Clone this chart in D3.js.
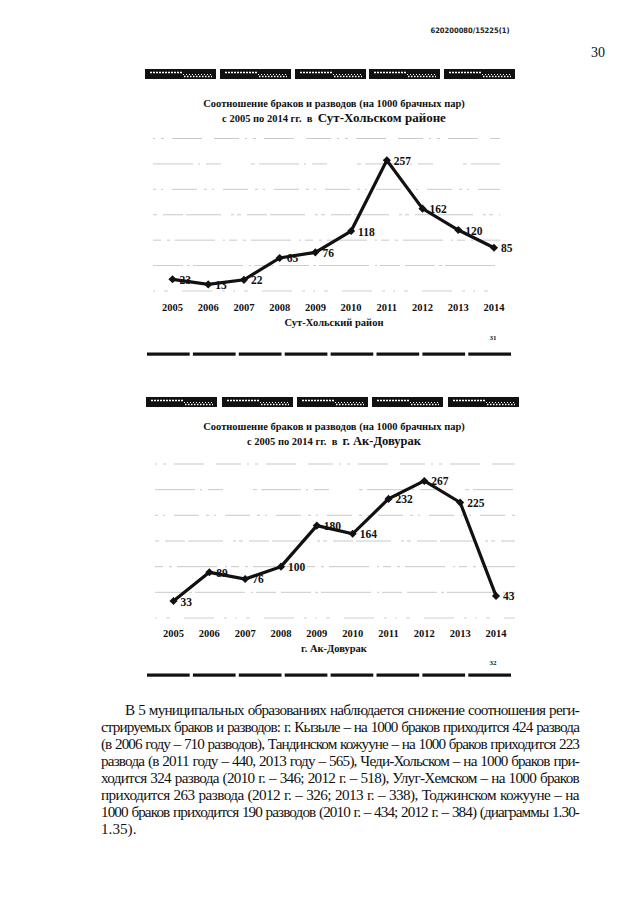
<!DOCTYPE html>
<html><head><meta charset="utf-8">
<script src="https://cdn.jsdelivr.net/npm/d3@7"></script>
<style>
html,body{margin:0;padding:0;background:#fff;}
svg{display:block;}
</style></head>
<body>
<script>
// ---- data ----
const years = ["2005","2006","2007","2008","2009","2010","2011","2012","2013","2014"];
const sutHolValues = [23,13,22,65,76,118,257,162,120,85];
const akDovurakValues = [33,89,76,100,180,164,232,267,225,43];
const gridTicks = [50,100,150,200,250,300];
const chart1Title = ["Соотношение браков и разводов (на 1000 брачных пар)", "с 2005 по 2014 гг.  в  ", "Сут-Хольском районе"];
const chart2Title = ["Соотношение браков и разводов (на 1000 брачных пар)", "с 2005 по 2014 гг.  в  ", "г. Ак-Довурак"];
const chart1Sub = "Сут-Хольский район";
const chart2Sub = "г. Ак-Довурак";
const paragraph = [
  "В 5 муниципальных образованиях наблюдается снижение соотношения реги-",
  "стрируемых браков и разводов: г. Кызыле – на 1000 браков приходится 424 развода",
  "(в 2006 году – 710 разводов), Тандинском кожууне – на 1000 браков приходится 223",
  "развода (в 2011 году – 440, 2013 году – 565), Чеди-Хольском – на 1000 браков при-",
  "ходится 324 развода (2010 г. – 346; 2012 г. – 518), Улуг-Хемском – на 1000 браков",
  "приходится 263 развода (2012 г. – 326; 2013 г. – 338), Тоджинском кожууне – на",
  "1000 браков приходится 190 разводов (2010 г. – 434; 2012 г. – 384) (диаграммы 1.30-",
  "1.35)."
];

const W = 640, H = 905;
const serif = "'Liberation Serif','Times New Roman',serif";
const svg = d3.select("body").append("svg").attr("width", W).attr("height", H);

// header
svg.append("text").attr("x", 470).attr("y", 33).attr("text-anchor","middle")
  .attr("font-family","'DejaVu Sans Condensed','Liberation Sans',sans-serif").attr("font-size",7.5)
  .attr("font-weight","bold").attr("fill","#222").text("620200080/15225(1)");
svg.append("text").attr("x", 598).attr("y", 57).attr("text-anchor","middle")
  .attr("font-family",serif).attr("font-size",14).attr("fill","#111").text("30");

function boxRow(y, xs) {
  const g = svg.append("g");
  xs.forEach(x => {
    g.append("rect").attr("x", x).attr("y", y).attr("width", 71).attr("height", 10).attr("fill", "#111");
    g.append("line").attr("x1", x+5).attr("x2", x+38).attr("y1", y+3.5).attr("y2", y+3.5)
      .attr("stroke","#fff").attr("stroke-width",1.6).attr("stroke-dasharray","2,1");
    g.append("line").attr("x1", x+38).attr("x2", x+67).attr("y1", y+5.5).attr("y2", y+5.5)
      .attr("stroke","#fff").attr("stroke-width",1).attr("stroke-dasharray","1,2");
    g.append("line").attr("x1", x+39).attr("x2", x+67).attr("y1", y+7.5).attr("y2", y+7.5)
      .attr("stroke","#fff").attr("stroke-width",1.3).attr("stroke-dasharray","1.5,1.5");
  });
}
function barRow(y) {
  const segX = d3.scaleBand().domain(d3.range(8)).range([147, 511]).paddingInner(0.07);
  svg.append("g").selectAll("rect").data(d3.range(8)).join("rect")
    .attr("x", d => segX(d)).attr("y", y - 1.5).attr("width", segX.bandwidth()).attr("height", 3.2)
    .attr("fill", "#111");
}

function chart(opts) {
  const {values, title, sub, num, yZero, yTop, x0, x1, gridX, titleY, yearY, subY, numY, bigSize} = opts;
  const g = svg.append("g");
  // title
  g.append("text").attr("x", 334).attr("y", titleY).attr("text-anchor","middle")
    .attr("font-family",serif).attr("font-weight","bold").attr("font-size",10.5).attr("fill","#111").text(title[0]);
  const t2 = g.append("text").attr("x", 334).attr("y", titleY + 15).attr("text-anchor","middle")
    .attr("font-family",serif).attr("font-weight","bold").attr("fill","#111").style("white-space","pre");
  t2.append("tspan").attr("font-size",10.5).text(title[1]);
  t2.append("tspan").attr("font-size",bigSize).text(title[2]);

  const x = d3.scalePoint().domain(years).range([x0, x1]);
  const y = d3.scaleLinear().domain([0, 300]).range([yZero, yTop]);

  // faint gridlines
  g.append("g").selectAll("line").data(gridTicks).join("line")
    .attr("x1", gridX[0]).attr("x2", gridX[1]).attr("y1", d => y(d)).attr("y2", d => y(d))
    .attr("stroke", "#999").attr("stroke-width", 0.8)
    .attr("stroke-dasharray", (d,i) => ["30,4,3,3,50,6,2,3,20,5", "8,6,3,5,40,8,2,4", "4,6,20,3,35,10,3,3", "3,5,2,9,25,7", "40,5,2,6,15,30,4,4", "2,6,3,8,30,12,25,6"][i % 6])
    .attr("opacity", 0.65);
  g.append("line").attr("x1", gridX[0]).attr("x2", gridX[1]).attr("y1", y(0)).attr("y2", y(0))
    .attr("stroke", "#aaa").attr("stroke-width", 0.8).attr("stroke-dasharray", "2,9,4,14,30,10,3,8").attr("opacity",0.7);

  // line
  const line = d3.line().x((d,i) => x(years[i])).y(d => y(d));
  g.append("path").datum(values).attr("d", line).attr("fill","none").attr("stroke","#111")
    .attr("stroke-width", 3.2).attr("stroke-linejoin","miter");
  // diamond markers
  g.append("g").selectAll("path").data(values).join("path")
    .attr("d", d3.symbol().type(d3.symbolDiamond2).size(42))
    .attr("transform", (d,i) => `translate(${x(years[i])},${y(d)})`).attr("fill","#111");
  // value labels
  g.append("g").selectAll("text").data(values).join("text")
    .attr("x", (d,i) => x(years[i]) + 7).attr("y", d => y(d) + 4.5)
    .attr("font-family",serif).attr("font-weight","bold").attr("font-size",11.5).attr("fill","#111")
    .text(d => d);

  // year labels
  g.append("g").selectAll("text").data(years).join("text")
    .attr("x", d => x(d)).attr("y", yearY).attr("text-anchor","middle")
    .attr("font-family",serif).attr("font-weight","bold").attr("font-size",10.5).attr("fill","#111").text(d => d);
  g.append("text").attr("x", 334).attr("y", subY).attr("text-anchor","middle")
    .attr("font-family",serif).attr("font-weight","bold").attr("font-size",10.5).attr("fill","#111").text(sub);
  g.append("text").attr("x", 493).attr("y", numY).attr("text-anchor","middle")
    .attr("font-family",serif).attr("font-weight","bold").attr("font-size",7).attr("fill","#111").text(num);
}

boxRow(69, [145, 220, 295, 369, 444]);
chart({values: sutHolValues, title: chart1Title, sub: chart1Sub, num: "31",
  yZero: 291, yTop: 138.5, x0: 172.5, x1: 494, gridX: [153, 500],
  titleY: 107, yearY: 311, subY: 326, numY: 340, bigSize: 13});
barRow(354);

boxRow(397, [146, 222, 297, 372, 448]);
chart({values: akDovurakValues, title: chart2Title, sub: chart2Sub, num: "32",
  yZero: 618, yTop: 464, x0: 173.5, x1: 496, gridX: [155, 515],
  titleY: 430, yearY: 637, subY: 652, numY: 665, bigSize: 12.5});
barRow(675);

// paragraph (justified)
const left = 101, right = 579, lh = 17, firstY = 715;
const fs = 15.2;
const pg = svg.append("g").attr("font-family", serif).attr("fill", "#111").attr("font-size", fs);
paragraph.forEach((s, i) => {
  const x = i === 0 ? 125 : left;
  const t = pg.append("text").attr("x", x).attr("y", firstY + i * lh).text(s);
  if (i === paragraph.length - 1) return;
  const w = t.node().getComputedTextLength();
  const spaces = (s.match(/ /g) || []).length;
  const target = right - x;
  if (w + spaces * 0.8 <= target) {
    t.attr("word-spacing", (target - w) / spaces);
  } else {
    const ls = (target - w - spaces * 0.8) / s.length;
    t.attr("letter-spacing", ls).attr("word-spacing", 0.8);
  }
});
</script>
</body></html>
